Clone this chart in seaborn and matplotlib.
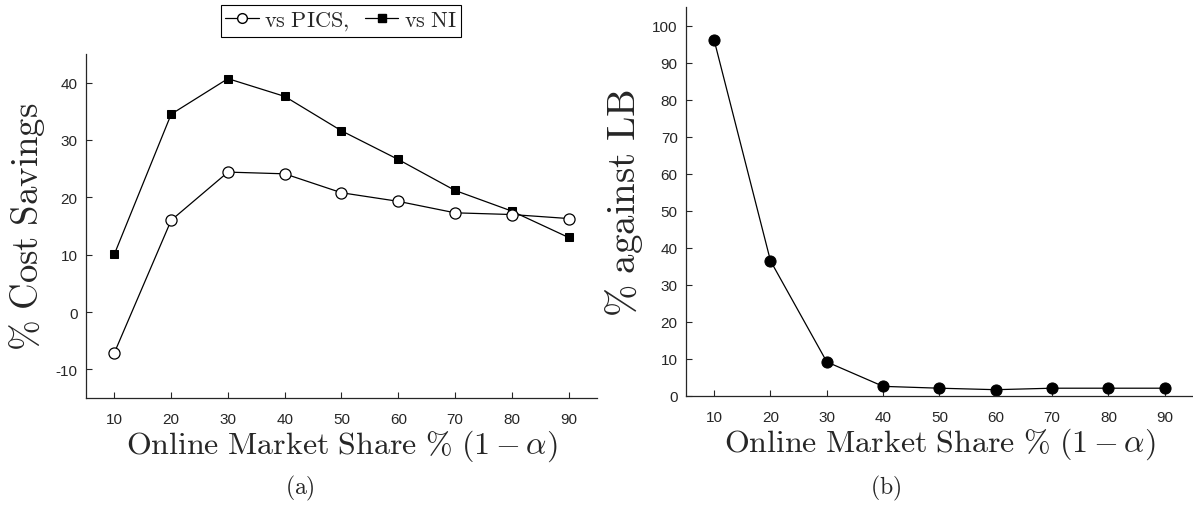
import matplotlib
matplotlib.use("Agg")
import matplotlib.pyplot as plt
import seaborn as sns
import pandas as pd
from matplotlib.lines import Line2D

# ---- data ----
share = [10, 20, 30, 40, 50, 60, 70, 80, 90]
vs_pics = [-7.1, 16.0, 24.4, 24.1, 20.8, 19.3, 17.3, 17.0, 16.3]
vs_ni = [10.1, 34.5, 40.7, 37.6, 31.6, 26.6, 21.2, 17.6, 13.0]
against_lb = [96.1, 36.5, 9.2, 2.6, 2.1, 1.7, 2.1, 2.1, 2.1]
left_yticks = [-10, 0, 10, 20, 30, 40]
right_yticks = [0, 10, 20, 30, 40, 50, 60, 70, 80, 90, 100]

sns.set_theme(style="white")
plt.rcParams['font.family'] = ['Liberation Sans', 'DejaVu Sans']
plt.rcParams['mathtext.fontset'] = 'cm'
plt.rcParams['axes.unicode_minus'] = False

fig = plt.figure(figsize=(11.93, 5.10), dpi=100)
ax1 = fig.add_axes([0.0721, 0.2176, 0.4283, 0.6746])
ax2 = fig.add_axes([0.575, 0.2216, 0.425, 0.7624])

df = pd.DataFrame({"share": share, "pics": vs_pics, "ni": vs_ni, "lb": against_lb})

axc = '#262626'
sns.lineplot(data=df, x="share", y="ni", ax=ax1, color='black', lw=0.9,
             marker='s', markersize=6.3, markerfacecolor='black', markeredgecolor='black')
sns.lineplot(data=df, x="share", y="pics", ax=ax1, color='black', lw=0.9,
             marker='o', markersize=8, markerfacecolor='white', markeredgecolor='black',
             markeredgewidth=0.9)
sns.lineplot(data=df, x="share", y="lb", ax=ax2, color='black', lw=0.9,
             marker='o', markersize=8, markerfacecolor='black', markeredgecolor='black')

xlabel = r'$\mathrm{Online\ Market\ Share\ \%\ }(1-\alpha)$'
for ax, yt, ylim, ylab, ylp, yfs in [(ax1, left_yticks, (-15, 45), r'$\%\ \mathrm{Cost\ Savings}$', 6, 26.5),
                                     (ax2, right_yticks, (0, 105), r'$\%\ \mathrm{against\ LB}$', 5, 28)]:
    ax.set_xlim(5, 95)
    ax.set_ylim(*ylim)
    ax.set_xticks(share)
    ax.set_xticklabels([str(s) for s in share])
    ax.set_yticks(yt)
    ax.set_yticklabels([str(v) for v in yt])
    ax.tick_params(direction='in', length=4, width=0.8, colors=axc, labelsize=11,
                   bottom=True, left=True, pad=6)
    ax.tick_params(axis='x', pad=10)
    for s in ['top', 'right']:
        ax.spines[s].set_visible(False)
    for s in ['left', 'bottom']:
        ax.spines[s].set_color(axc)
        ax.spines[s].set_linewidth(0.9)
    ax.set_xlabel(xlabel, fontsize=23, color=axc, labelpad=1)
    ax.set_ylabel(ylab, fontsize=yfs, color=axc, labelpad=ylp)
    ax.set_facecolor('white')

handles = [Line2D([], [], color='black', lw=0.9, marker='o', markersize=7,
                  markerfacecolor='white', markeredgecolor='black'),
           Line2D([], [], color='black', lw=0.9, marker='s', markersize=6,
                  markerfacecolor='black', markeredgecolor='black')]
leg = fig.legend(handles, [r'$\mathrm{vs\ PICS,}$', r'$\mathrm{vs\ NI}$'], ncol=2,
                 loc='center', bbox_to_anchor=(0.286, 0.957), fontsize=16,
                 frameon=True, fancybox=False, edgecolor='black', framealpha=1,
                 handlelength=1.5, handletextpad=0.25, columnspacing=0.7,
                 borderpad=0.2, borderaxespad=0)
leg.get_frame().set_linewidth(0.8)

fig.text(0.2515, 1 - 488 / 510, r'$\mathrm{(a)}$', fontsize=17, ha='center', va='center')
fig.text(0.742, 1 - 488 / 510, r'$\mathrm{(b)}$', fontsize=17, ha='center', va='center')

fig.savefig('out.png', dpi=100, facecolor='white')
